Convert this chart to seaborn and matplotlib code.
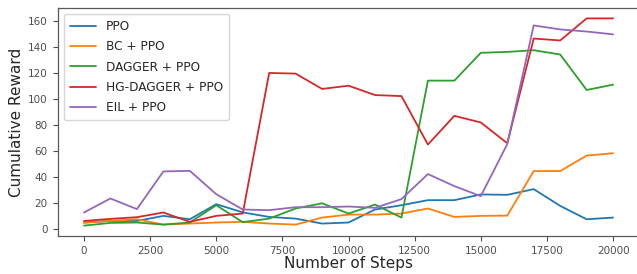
import pandas as pd
import matplotlib
matplotlib.use("Agg")
import matplotlib.pyplot as plt
import seaborn as sns

steps = list(range(0, 21000, 1000))

ppo = [5.2, 6.4, 6.4, 10.3, 7.7, 19.3, 13.0, 9.5, 8.2, 4.4, 5.2,
       15.2, 18.5, 22.4, 22.4, 26.8, 26.5, 30.9, 18.0, 7.7, 9.0]
bc_ppo = [5.0, 6.5, 7.7, 3.6, 4.4, 5.2, 5.7, 4.4, 3.6, 9.0, 11.3,
          11.3, 12.1, 16.0, 9.5, 10.3, 10.5, 44.8, 44.8, 56.7, 58.5]
dagger_ppo = [2.8, 4.9, 5.2, 3.6, 5.2, 18.5, 5.5, 8.2, 16.0, 20.0, 12.1,
              19.0, 9.0, 114.4, 114.4, 135.8, 136.5, 137.8, 134.5, 107.2, 111.3]
hg_dagger_ppo = [6.4, 8.0, 9.3, 12.9, 5.7, 10.3, 12.1, 120.3, 119.8, 108.0, 110.5,
                 103.3, 102.5, 65.2, 87.3, 82.2, 66.2, 146.8, 145.3, 162.3, 162.3]
eil_ppo = [12.9, 23.7, 15.5, 44.5, 45.0, 27.0, 15.2, 14.7, 17.0, 17.0, 17.5,
           16.5, 23.2, 42.5, 33.2, 25.5, 65.6, 156.9, 153.8, 152.2, 150.0]

methods = ["PPO", "BC + PPO", "DAGGER + PPO", "HG-DAGGER + PPO", "EIL + PPO"]
series = [ppo, bc_ppo, dagger_ppo, hg_dagger_ppo, eil_ppo]

frames = []
for name, values in zip(methods, series):
    frames.append(pd.DataFrame({"step": steps, "reward": values, "method": name}))
data = pd.concat(frames, ignore_index=True)

sns.set_style("ticks")
plt.rcParams["font.family"] = ["DejaVu Sans"]

fig = plt.figure(figsize=(6.37, 2.74), dpi=100)
ax = fig.add_axes([0.0903, 0.1387, 0.9137, 0.832])

sns.lineplot(data=data, x="step", y="reward", hue="method",
             hue_order=methods, palette="tab10", linewidth=1.3, ax=ax)

ax.set_xticks([0, 2500, 5000, 7500, 10000, 12500, 15000, 17500, 20000])
ax.set_yticks([0, 20, 40, 60, 80, 100, 120, 140, 160])
ax.set_xlabel("Number of Steps", fontsize=11, color="0.15", labelpad=0)
ax.set_ylabel("Cumulative Reward", fontsize=11, color="0.15", labelpad=3)
ax.tick_params(axis="both", labelsize=7.5, colors="0.3", length=3.5, width=0.8)
for side in ax.spines:
    ax.spines[side].set_color("0.35")
    ax.spines[side].set_linewidth(0.9)

ax.legend(loc="upper left", fontsize=8.7, frameon=True, fancybox=True,
          handlelength=2.2, borderaxespad=0.5, labelspacing=0.6,
          borderpad=0.5)

fig.savefig("out.png", dpi=100)
